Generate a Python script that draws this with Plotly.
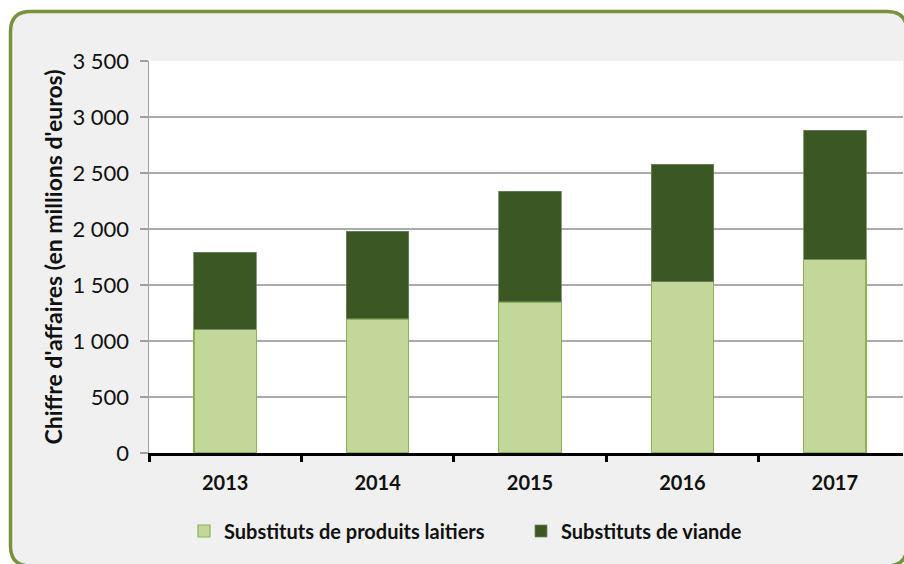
import plotly.graph_objects as go

years = ["2013", "2014", "2015", "2016", "2017"]
dairy = [1105, 1197, 1349, 1528, 1728]
meat = [686, 781, 990, 1049, 1153]
y_ticks = [0, 500, 1000, 1500, 2000, 2500, 3000, 3500]

W, H = 904, 564
ML, MR, MT = 149, 1, 61
MB = H - 453
PW, PH = W - ML - MR, H - MT - MB


def px(x):
    return (x - ML) / PW


def py(y):
    return (H - MB - y) / PH


fig = go.Figure()
fig.add_trace(go.Bar(
    x=years, y=dairy, name="Substituts de produits laitiers",
    marker=dict(color="#C4D79B", line=dict(color="#8DB255", width=1.2)),
))
fig.add_trace(go.Bar(
    x=years, y=meat, name="Substituts de viande",
    marker=dict(color="#3A5724", line=dict(color="#6E8560", width=0.8)),
))

# rounded frame
l, t, r, b, rad = 10.5, 11.5, 907, 566, 20
path = (
    f"M {px(l)},{py(t + rad)} Q {px(l)},{py(t)} {px(l + rad)},{py(t)} "
    f"L {px(r - rad)},{py(t)} Q {px(r)},{py(t)} {px(r)},{py(t + rad)} "
    f"L {px(r)},{py(b - rad)} Q {px(r)},{py(b)} {px(r - rad)},{py(b)} "
    f"L {px(l + rad)},{py(b)} Q {px(l)},{py(b)} {px(l)},{py(b - rad)} Z"
)
fig.add_shape(type="path", path=path, xref="paper", yref="paper",
              fillcolor="#F0F0F0", line=dict(color="#77933C", width=3.5), layer="below")
fig.add_shape(type="rect", xref="x domain", yref="y domain", x0=0, x1=1, y0=0, y1=1,
              fillcolor="white", line=dict(width=0), layer="below")

FONT = "Lato, 'Open Sans', sans-serif"

fig.update_layout(
    width=W, height=H,
    margin=dict(l=ML, r=MR, t=MT, b=MB),
    barmode="stack",
    bargap=0.59,
    paper_bgcolor="white",
    plot_bgcolor="rgba(0,0,0,0)",
    separators=", ",
    font=dict(family=FONT, color="#111111"),
    showlegend=True,
    legend=dict(
        orientation="h", x=px(184), xanchor="left", y=py(531), yanchor="middle",
        font=dict(family=FONT, size=20, color="#111111", weight="bold"),
        bgcolor="rgba(0,0,0,0)", itemwidth=30, traceorder="normal",
        entrywidth=292, entrywidthmode="pixels",
        itemclick=False,
    ),
    xaxis=dict(
        type="category", range=[-0.5, -0.5 + PW / 152.4],
        showline=True, linecolor="black", linewidth=3,
        ticks="outside", tickson="boundaries", ticklen=6, tickwidth=3, tickcolor="black",
        tickfont=dict(family=FONT, size=20, color="#111111", weight="bold"),
        ticklabelstandoff=10,
        showgrid=False, zeroline=False,
    ),
    yaxis=dict(
        range=[0, 3500], tickvals=y_ticks, tickformat=",d",
        showline=True, linecolor="#A0A0A0", linewidth=1.5,
        ticks="outside", ticklen=8, tickwidth=1.5, tickcolor="#A0A0A0",
        tickfont=dict(family=FONT, size=22, color="#111111"),
        ticklabelstandoff=6,
        showgrid=True, gridcolor="#ABABAB", gridwidth=1.5,
        zeroline=False,
        title=dict(text="Chiffre d'affaires (en millions d'euros)",
                   font=dict(family=FONT, size=23, color="#111111", weight="bold"),
                   standoff=3),
    ),
)

fig.write_html(
    "out.html",
    config={"displayModeBar": False, "staticPlot": True},
    post_script="document.body.style.margin='0';document.body.style.overflow='hidden';",
)
